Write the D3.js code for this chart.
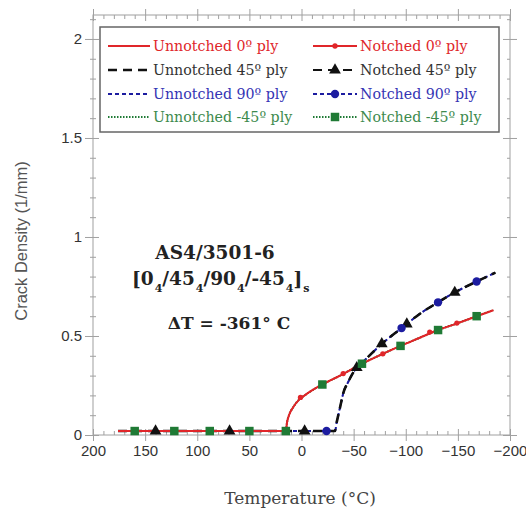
<!DOCTYPE html>
<html>
<head>
<meta charset="utf-8">
<script src="https://cdn.jsdelivr.net/npm/d3@7"></script>
<style>
  html, body { margin: 0; padding: 0; background: #fff; }
  svg { display: block; }
</style>
</head>
<body>
<svg id="chart" width="526" height="513"></svg>
<script>
// Axis ticks
const tempTicks = [200, 150, 100, 50, 0, -50, -100, -150, -200];
const crackTicks = [0, 0.5, 1, 1.5, 2];

// Unnotched 0º and -45º plies (crack onset near 15 °C)
const tempsLow = [176, 15, 14, 12, 8, 2, -3, -10, -20, -37, -58, -78, -95, -113, -131, -150, -168, -184];
const crack0   = [0.02, 0.02, 0.06, 0.10, 0.14, 0.18, 0.20, 0.225, 0.255, 0.30, 0.36, 0.41, 0.45, 0.49, 0.53, 0.565, 0.60, 0.63];
const crackM45 = [0.02, 0.02, 0.06, 0.10, 0.14, 0.18, 0.20, 0.225, 0.255, 0.30, 0.36, 0.41, 0.45, 0.49, 0.53, 0.565, 0.60, 0.63];

// Unnotched 45º and 90º plies (crack onset near -32 °C)
const tempsHigh = [176, -32, -34, -37, -40, -45, -49, -53, -61, -77, -96, -113, -131, -147, -168, -186];
const crack45   = [0.02, 0.02, 0.07, 0.14, 0.21, 0.27, 0.31, 0.34, 0.38, 0.46, 0.54, 0.61, 0.67, 0.72, 0.775, 0.82];
const crack90   = [0.02, 0.02, 0.07, 0.14, 0.21, 0.27, 0.31, 0.34, 0.38, 0.46, 0.54, 0.61, 0.67, 0.72, 0.775, 0.82];

// Notched specimens: marker temperatures and crack densities
const notched0T   = [140, 1, -40, -78, -123, -149];
const notched0V   = [0.02, 0.19, 0.31, 0.41, 0.52, 0.565];
const notched45T  = [140, 69, -3, -53, -77, -101, -147];
const notched45V  = [0.02, 0.02, 0.02, 0.34, 0.46, 0.56, 0.72];
const notched90T  = [-24, -96, -131, -168];
const notched90V  = [0.02, 0.54, 0.67, 0.775];
const notchedM45T = [160, 122, 88, 50, 15, -20, -58, -95, -131, -168];
const notchedM45V = [0.02, 0.02, 0.02, 0.02, 0.02, 0.255, 0.36, 0.45, 0.53, 0.60];

const RED = "#e0262a", BLACK = "#111111", BLUE = "#1c1ca0", GREEN = "#1f7a35";

const svg = d3.select("#chart");
const plotL = 93, plotR = 510, plotT = 15, plotB = 435;

const x = d3.scaleLinear().domain([200, -200]).range([plotL, plotR]);
const y = d3.scaleLinear().domain([0, 2.121]).range([plotB, plotT]);

const axisColor = "#a0a0a0";
const minorX = d3.range(200, -201, -10).filter(v => v % 50 !== 0);
const minorY = d3.range(0, 2.11, 0.1).map(v => +v.toFixed(2)).filter(v => Math.abs(v * 2 - Math.round(v * 2)) > 1e-6);

function styleAxis(g) {
  g.select(".domain").remove();
  g.selectAll(".tick line").attr("stroke", axisColor).attr("stroke-width", 1);
}

// frame
svg.append("rect")
  .attr("x", plotL).attr("y", plotT)
  .attr("width", plotR - plotL).attr("height", plotB - plotT)
  .attr("fill", "none").attr("stroke", axisColor).attr("stroke-width", 1);

// bottom axis: labels + outward and inward ticks
const gB = svg.append("g").attr("transform", `translate(0,${plotB})`);
gB.call(d3.axisBottom(x).tickValues(tempTicks).tickSize(6).tickSizeOuter(0).tickPadding(4).tickFormat(d3.format("d")))
  .call(styleAxis);
gB.selectAll(".tick text").attr("font-family", "Liberation Sans, Arial, sans-serif").attr("font-size", 15).attr("fill", "#333");
svg.append("g").attr("transform", `translate(0,${plotB})`)
  .call(d3.axisBottom(x).tickValues(tempTicks).tickSize(-6).tickSizeOuter(0).tickFormat(""))
  .call(styleAxis);
svg.append("g").attr("transform", `translate(0,${plotB})`)
  .call(d3.axisBottom(x).tickValues(minorX).tickSize(-4).tickSizeOuter(0).tickFormat(""))
  .call(styleAxis);

// top axis ticks
svg.append("g").attr("transform", `translate(0,${plotT})`)
  .call(d3.axisTop(x).tickValues(tempTicks).tickSize(6).tickSizeOuter(0).tickFormat(""))
  .call(styleAxis);
svg.append("g").attr("transform", `translate(0,${plotT})`)
  .call(d3.axisTop(x).tickValues(tempTicks).tickSize(-6).tickSizeOuter(0).tickFormat(""))
  .call(styleAxis);
svg.append("g").attr("transform", `translate(0,${plotT})`)
  .call(d3.axisTop(x).tickValues(minorX).tickSize(-4).tickSizeOuter(0).tickFormat(""))
  .call(styleAxis);

// left axis
const gL = svg.append("g").attr("transform", `translate(${plotL},0)`);
gL.call(d3.axisLeft(y).tickValues(crackTicks).tickSize(8).tickSizeOuter(0).tickPadding(3).tickFormat(d => String(d)))
  .call(styleAxis);
gL.selectAll(".tick text").attr("font-family", "Liberation Sans, Arial, sans-serif").attr("font-size", 15).attr("fill", "#333");
svg.append("g").attr("transform", `translate(${plotL},0)`)
  .call(d3.axisLeft(y).tickValues(crackTicks).tickSize(-6).tickSizeOuter(0).tickFormat(""))
  .call(styleAxis);
svg.append("g").attr("transform", `translate(${plotL},0)`)
  .call(d3.axisLeft(y).tickValues(minorY).tickSize(3).tickSizeOuter(0).tickFormat(""))
  .call(styleAxis);
svg.append("g").attr("transform", `translate(${plotL},0)`)
  .call(d3.axisLeft(y).tickValues(minorY).tickSize(-3).tickSizeOuter(0).tickFormat(""))
  .call(styleAxis);

// right axis
svg.append("g").attr("transform", `translate(${plotR},0)`)
  .call(d3.axisRight(y).tickValues(crackTicks).tickSize(7).tickSizeOuter(0).tickFormat(""))
  .call(styleAxis);
svg.append("g").attr("transform", `translate(${plotR},0)`)
  .call(d3.axisRight(y).tickValues(crackTicks).tickSize(-7).tickSizeOuter(0).tickFormat(""))
  .call(styleAxis);
svg.append("g").attr("transform", `translate(${plotR},0)`)
  .call(d3.axisRight(y).tickValues(minorY).tickSize(-3).tickSizeOuter(0).tickFormat(""))
  .call(styleAxis);

// axis titles
svg.append("text")
  .attr("transform", `translate(27,${(plotT + plotB) / 2 + 16}) rotate(-90)`)
  .attr("text-anchor", "middle")
  .attr("font-family", "Liberation Sans, Arial, sans-serif")
  .attr("font-size", 16.5).attr("fill", "#555")
  .text("Crack Density (1/mm)");

svg.append("text")
  .attr("x", 300).attr("y", 504)
  .attr("text-anchor", "middle")
  .attr("font-family", "DejaVu Serif, serif")
  .attr("font-size", 17).attr("fill", "#444")
  .text("Temperature (°C)");

// series
const line = d3.line().x(d => x(d[0])).y(d => y(d[1])).curve(d3.curveMonotoneX);
const zip = (a, b) => a.map((v, i) => [v, b[i]]);

const series = [
  { name: "Unnotched 0º ply",   data: zip(tempsLow, crack0),    color: RED,   width: 2,   dash: null,      z: 3 },
  { name: "Unnotched 45º ply",  data: zip(tempsHigh, crack45),  color: BLACK, width: 2.6, dash: "9,6",     z: 2 },
  { name: "Unnotched 90º ply",  data: zip(tempsHigh, crack90),  color: BLUE,  width: 2,   dash: "4,3",     z: 1 },
  { name: "Unnotched -45º ply", data: zip(tempsLow, crackM45),  color: GREEN, width: 2,   dash: "1.5,1.5", z: 0 },
  { name: "Notched 0º ply",     data: zip(tempsLow, crack0),    color: RED,   width: 1.2, dash: null,      z: 3, marks: zip(notched0T, notched0V),   shape: "circle" },
  { name: "Notched 45º ply",    data: zip(tempsHigh, crack45),  color: BLACK, width: 1.6, dash: "9,6",     z: 2, marks: zip(notched45T, notched45V), shape: "triangle" },
  { name: "Notched 90º ply",    data: zip(tempsHigh, crack90),  color: BLUE,  width: 1.4, dash: "4,3",     z: 1, marks: zip(notched90T, notched90V), shape: "dot" },
  { name: "Notched -45º ply",   data: zip(tempsLow, crackM45),  color: GREEN, width: 1.4, dash: "1.5,1.5", z: 0, marks: zip(notchedM45T, notchedM45V), shape: "square" }
];

const symbolFor = {
  circle:   d3.symbol().type(d3.symbolCircle).size(22),
  triangle: d3.symbol().type(d3.symbolTriangle).size(60),
  dot:      d3.symbol().type(d3.symbolCircle).size(55),
  square:   d3.symbol().type(d3.symbolSquare).size(72)
};

const gSeries = svg.append("g");
series.slice().sort((a, b) => a.z - b.z).forEach(s => {
  gSeries.append("path")
    .attr("d", line(s.data))
    .attr("fill", "none")
    .attr("stroke", s.color)
    .attr("stroke-width", s.width)
    .attr("stroke-dasharray", s.dash);
});
series.filter(s => s.marks).forEach(s => {
  gSeries.selectAll(null).data(s.marks).enter().append("path")
    .attr("d", symbolFor[s.shape])
    .attr("transform", d => `translate(${x(d[0])},${y(d[1])})`)
    .attr("fill", s.color);
});

// annotation
const ann = svg.append("g")
  .attr("font-family", "DejaVu Serif, serif")
  .attr("font-weight", "bold")
  .attr("fill", "#222");
ann.append("text").attr("x", 215).attr("y", 259).attr("text-anchor", "middle")
  .attr("font-size", 18.5).text("AS4/3501-6");
const lay = ann.append("text").attr("x", 132).attr("y", 285).attr("font-size", 18.5);
let lowered = false;
[["[0", false], ["4", true], ["/45", false], ["4", true], ["/90", false], ["4", true], ["/-45", false], ["4", true], ["]", false], ["s", true]]
  .forEach(([t, sub]) => {
    let dy = 0;
    if (sub && !lowered) { dy = 7; lowered = true; }
    else if (!sub && lowered) { dy = -7; lowered = false; }
    lay.append("tspan")
      .attr("font-size", sub ? 11 : 18.5)
      .attr("dx", sub ? 1 : 0)
      .attr("dy", dy)
      .text(t);
  });
ann.append("text").attr("x", 229).attr("y", 329).attr("text-anchor", "middle")
  .attr("font-size", 17).text("ΔT = -361° C");

// legend
const lg = svg.append("g");
lg.append("rect")
  .attr("x", 100).attr("y", 27).attr("width", 399).attr("height", 105)
  .attr("fill", "#fff").attr("stroke", "#666").attr("stroke-width", 1.5);

const textColors = [RED, "#333", "#3434b4", "#3d8a4d"];
const rowY = [46, 70, 94, 117];
series.forEach((s, i) => {
  const col = i < 4 ? 0 : 1;
  const row = i % 4;
  const x0 = col === 0 ? 108 : 313;
  const x1 = col === 0 ? 150 : 357;
  const yy = rowY[row];
  lg.append("line")
    .attr("x1", x0).attr("x2", x1).attr("y1", yy).attr("y2", yy)
    .attr("stroke", s.color).attr("stroke-width", col === 0 ? s.width : s.width + 0.6)
    .attr("stroke-dasharray", s.dash);
  if (s.marks) {
    lg.append("path").attr("d", symbolFor[s.shape])
      .attr("transform", `translate(${(x0 + x1) / 2},${yy})`)
      .attr("fill", s.color);
  }
  lg.append("text")
    .attr("x", col === 0 ? 153 : 360).attr("y", yy + 5)
    .attr("font-family", "DejaVu Serif, serif")
    .attr("font-size", 14.2)
    .attr("fill", textColors[row])
    .text(s.name);
});
</script>
</body>
</html>
